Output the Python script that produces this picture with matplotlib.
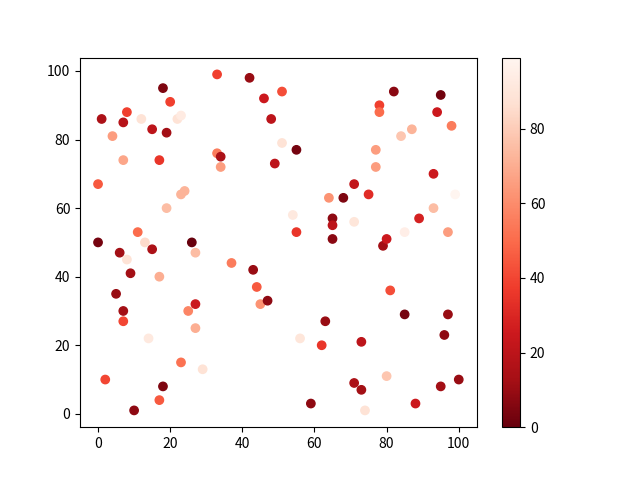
import numpy as np
import matplotlib
matplotlib.use('Agg')
import matplotlib.pyplot as plt

plt.rcParams['font.family'] = ['Noto Sans CJK SC', 'DejaVu Sans']

x = [0, 0, 1, 2, 4, 5, 6, 7, 7, 7, 7, 8, 8, 9, 10, 11, 12, 13, 14, 15,
     15, 17, 17, 17, 18, 18, 19, 19, 20, 22, 23, 23, 23, 24, 25, 26, 27, 27, 27, 29,
     33, 33, 34, 34, 37, 42, 43, 44, 45, 46, 47, 48, 49, 51, 51, 54, 55, 55, 56, 59,
     62, 63, 64, 65, 65, 65, 68, 71, 71, 71, 73, 73, 74, 75, 77, 77, 78, 78, 79, 80,
     80, 81, 82, 84, 85, 85, 87, 88, 89, 93, 93, 94, 95, 95, 96, 97, 97, 98, 99, 100]
y = [67, 50, 86, 10, 81, 35, 47, 85, 74, 30, 27, 88, 45, 41, 1, 53, 86, 50, 22, 83,
     48, 74, 40, 4, 95, 8, 82, 60, 91, 86, 87, 64, 15, 65, 30, 50, 47, 32, 25, 13,
     99, 76, 75, 72, 44, 98, 42, 37, 32, 92, 33, 86, 73, 94, 79, 58, 77, 53, 22, 3,
     20, 27, 63, 57, 55, 51, 63, 67, 56, 9, 21, 7, 1, 64, 77, 72, 90, 88, 49, 51,
     11, 36, 94, 81, 53, 29, 83, 3, 57, 70, 60, 88, 93, 8, 23, 53, 29, 84, 64, 10]
c = [45, 3, 15, 40, 65, 10, 12, 18, 68, 12, 40, 38, 88, 12, 8, 50, 88, 85, 92, 20,
     15, 35, 70, 45, 5, 5, 12, 75, 38, 88, 93, 72, 52, 72, 58, 0, 75, 25, 70, 88,
     38, 55, 15, 65, 55, 10, 10, 45, 62, 25, 8, 20, 20, 42, 88, 92, 3, 35, 90, 8,
     35, 10, 62, 8, 20, 7, 5, 22, 90, 15, 20, 12, 88, 32, 65, 65, 38, 50, 12, 25,
     78, 42, 7, 78, 95, 3, 72, 25, 28, 25, 75, 25, 2, 12, 8, 65, 10, 55, 99, 10]

fig = plt.figure(figsize=(6.4, 4.8), dpi=100)
sc = plt.scatter(x, y, c=c, cmap='Reds_r')
plt.colorbar(sc)
plt.savefig('out.png')
